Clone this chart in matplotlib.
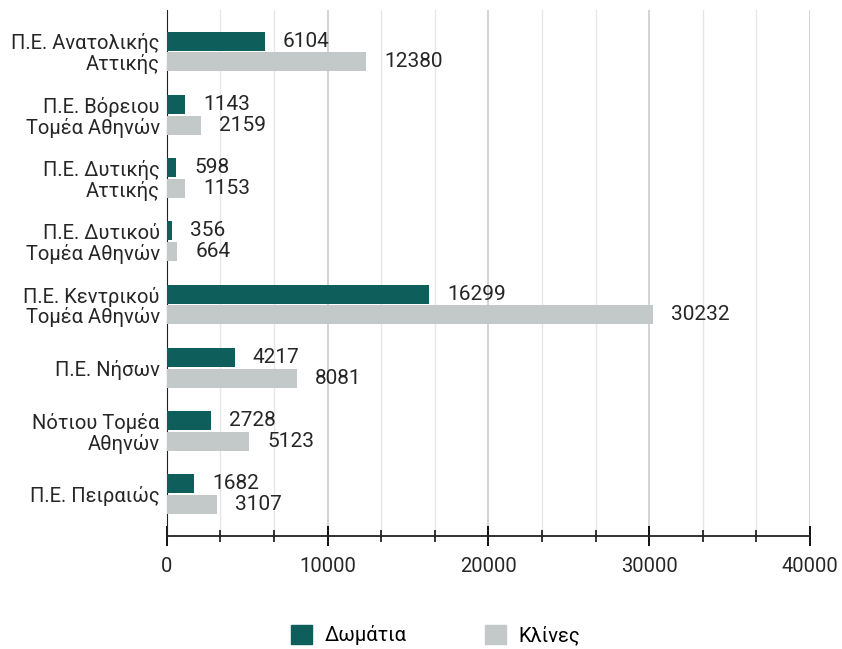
import numpy as np
import matplotlib.pyplot as plt
import matplotlib.patches as mpatches
from matplotlib.ticker import MultipleLocator

plt.rcParams['font.family'] = ['Roboto', 'DejaVu Sans']

# Données
categories = ['Π.Ε. Ανατολικής\nΑττικής', 'Π.Ε. Βόρειου\nΤομέα Αθηνών', 'Π.Ε. Δυτικής\nΑττικής',
              'Π.Ε. Δυτικού\nΤομέα Αθηνών', 'Π.Ε. Κεντρικού\nΤομέα Αθηνών', 'Π.Ε. Νήσων',
              'Νότιου Τομέα\nΑθηνών', 'Π.Ε. Πειραιώς']
domatia = [6104, 1143, 598, 356, 16299, 4217, 2728, 1682]
klines = [12380, 2159, 1153, 664, 30232, 8081, 5123, 3107]
series_names = ['Δωμάτια', 'Κλίνες']

DARK = '#0e5f5b'
GRAY = '#c3c9c9'
TXT = '#262626'

fig = plt.figure(figsize=(8.42, 6.49), dpi=100)
ax = fig.add_axes([0.198, 0.174, 0.764, 0.811])

y = np.arange(len(categories))
h = 0.3
ax.barh(y - h / 2 - 0.015, domatia, height=h, color=DARK, zorder=3)
ax.barh(y + h / 2 + 0.015, klines, height=h, color=GRAY, zorder=3)

for yi, v in zip(y - h / 2 - 0.015, domatia):
    ax.annotate(str(v), (v, yi), xytext=(13, 0), textcoords='offset points',
                va='center', ha='left', fontsize=15, color=TXT)
for yi, v in zip(y + h / 2 + 0.015, klines):
    ax.annotate(str(v), (v, yi), xytext=(13, 0), textcoords='offset points',
                va='center', ha='left', fontsize=15, color=TXT)

ax.set_xlim(0, 40000)
ax.set_ylim(len(categories) - 1 + 0.66, -0.66)
ax.set_yticks(y)
ax.set_yticklabels(categories, fontsize=14.5, color=TXT, ha='right', linespacing=1.05)
ax.tick_params(axis='y', length=0, pad=5)

ax.xaxis.set_major_locator(MultipleLocator(10000))
ax.xaxis.set_minor_locator(MultipleLocator(10000 / 3))
ax.tick_params(axis='x', which='major', direction='inout', length=14, width=1.3,
               labelsize=14.5, labelcolor=TXT, pad=8)
ax.tick_params(axis='x', which='minor', direction='inout', length=8.5, width=1.1)
ax.grid(axis='x', which='major', color='#cccccc', linewidth=1.2, zorder=0)
ax.grid(axis='x', which='minor', color='#e6e6e6', linewidth=1, zorder=0)

for s in ['top', 'right']:
    ax.spines[s].set_visible(False)
ax.spines['left'].set_color('#222222')
ax.spines['bottom'].set_color('#222222')
ax.spines['bottom'].set_linewidth(1.3)

handles = [mpatches.Patch(color=DARK, label=series_names[0]),
           mpatches.Patch(color=GRAY, label=series_names[1])]
fig.legend(handles=handles, loc='center', bbox_to_anchor=(0.517, 0.021), ncol=2,
           frameon=False, fontsize=14.5, handlelength=1.05, handleheight=1.05,
           columnspacing=3.9, handletextpad=0.6)

plt.savefig('out.png', dpi=100)
